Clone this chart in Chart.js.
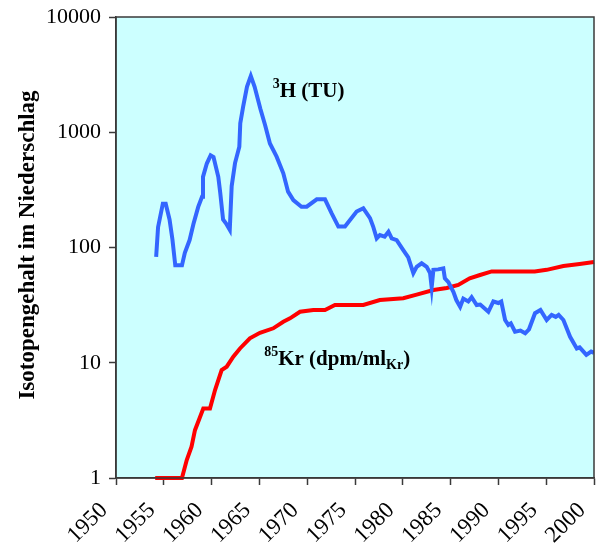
<!DOCTYPE html>
<html>
<head>
<meta charset="utf-8">
<style>
  html, body { margin: 0; padding: 0; background: #ffffff; }
  #wrap { width: 597px; height: 547px; }
</style>
<script src="https://cdn.jsdelivr.net/npm/chart.js@4.4.1/dist/chart.umd.min.js"></script>
</head>
<body>
<div id="wrap"><canvas id="c" width="597" height="547"></canvas></div>
<script>
// Tritium in precipitation (TU)
const tritiumYears = [1954.2, 1954.4, 1954.9, 1955.2, 1955.6, 1955.9, 1956.2, 1956.9, 1957.2, 1957.7,
  1958.1, 1958.6, 1959.0, 1959.1, 1959.5, 1959.9, 1960.2, 1960.7, 1960.9, 1961.2,
  1961.5, 1961.9, 1962.1, 1962.45, 1962.9, 1963.0, 1963.3, 1963.7, 1964.1, 1964.5,
  1965.1, 1965.6, 1966.1, 1966.8, 1967.5, 1968.0, 1968.55, 1969.4, 1969.95, 1971.0,
  1971.86, 1972.56, 1973.26, 1973.95, 1975.17, 1975.87, 1976.57, 1976.9, 1977.27, 1977.6,
  1978.1, 1978.5, 1978.84, 1979.36, 1980.05, 1980.57, 1981.1, 1981.45, 1981.97, 1982.5,
  1982.85, 1983.02, 1983.2, 1983.7, 1984.24, 1984.4, 1984.77, 1985.3, 1985.6, 1986.0,
  1986.33, 1986.85, 1987.2, 1987.73, 1988.1, 1988.95, 1989.47, 1990.0, 1990.3, 1990.7,
  1991.04, 1991.3, 1991.74, 1992.3, 1992.8, 1993.2, 1993.83, 1994.4, 1995.05, 1995.57,
  1996.0, 1996.3, 1996.8, 1997.5, 1998.2, 1998.5, 1999.2, 1999.7, 2000.0];
const tritiumTU = [83, 150, 240, 240, 175, 118, 70, 70, 90, 116,
  160, 225, 275, 410, 535, 630, 610, 410, 300, 175,
  162, 142, 340, 540, 750, 1200, 1670, 2480, 3080, 2480,
  1600, 1150, 800, 614, 440, 305, 258, 226, 226, 262,
  262, 198, 152, 152, 205, 219, 180, 152, 120, 128,
  124, 137, 120, 116, 95, 82, 60, 68, 73, 68,
  60, 45, 64, 64.6, 66, 54, 50, 41, 35, 30.6,
  36, 34, 37, 31.7, 32, 27.7, 34, 33, 34, 23.5,
  21.3, 22, 18.6, 19, 18, 19.5, 26.9, 28.7, 23.5, 26,
  25, 26, 23.5, 16.8, 13.3, 13.6, 11.7, 12.5, 12.2];

// Krypton-85 (dpm per ml Kr)
const kryptonYears = [1954.1, 1956.9, 1957.4, 1957.9, 1958.26, 1958.8, 1959.13, 1959.83, 1960.36, 1961.05,
  1961.58, 1962.27, 1962.97, 1964.0, 1965.06, 1966.45, 1967.5, 1968.2, 1969.25, 1970.64,
  1971.86, 1972.9, 1975.87, 1977.6, 1980.05, 1981.45, 1983.2, 1984.6, 1985.8, 1987.0,
  1988.08, 1989.3, 1991.2, 1993.8, 1995.05, 1996.8, 1998.5, 2000.0];
const kryptonDpm = [1, 1, 1.43, 1.87, 2.6, 3.4, 4.0, 4.0, 5.8, 8.65,
  9.24, 11.3, 13.3, 16.3, 18.2, 19.9, 22.7, 24.3, 27.7, 28.7,
  28.7, 31.7, 31.7, 35, 36.3, 39, 42.8, 44.5, 47.3, 54,
  57.7, 62, 62, 62, 64, 69, 72, 75];

const yearTicks = [1950, 1955, 1960, 1965, 1970, 1975, 1980, 1985, 1990, 1995, 2000];
const decadeTicks = [1, 10, 100, 1000, 10000];

const SERIF = "'Liberation Serif', 'Times New Roman', serif";
const AXIS_COLOR = '#3a3a3a';

const toPoints = (xs, ys) => xs.map((x, i) => ({ x: x, y: ys[i] }));

// Light cyan plot background with a frame around it
const plotFrame = {
  id: 'plotFrame',
  beforeDraw(chart) {
    const { ctx, chartArea: a } = chart;
    ctx.save();
    ctx.fillStyle = '#ccffff';
    ctx.fillRect(a.left, a.top, a.right - a.left, a.bottom - a.top);
    ctx.restore();
  },
  afterDraw(chart) {
    const { ctx, chartArea: a } = chart;
    ctx.save();
    ctx.strokeStyle = AXIS_COLOR;
    ctx.lineWidth = 1.5;
    ctx.strokeRect(a.left, a.top, a.right - a.left, a.bottom - a.top);
    ctx.restore();
  }
};

// Draws a run of text pieces with their own size and vertical shift (super/subscripts)
function drawRichText(ctx, x, y, parts) {
  let cx = x;
  parts.forEach(p => {
    ctx.font = 'bold ' + p.size + 'px ' + SERIF;
    ctx.fillText(p.t, cx, y + p.dy);
    cx += ctx.measureText(p.t).width;
  });
}

const annotations = {
  id: 'annotations',
  afterDatasetsDraw(chart) {
    const { ctx, scales } = chart;
    const xs = scales.x, ys = scales.y;
    ctx.save();
    ctx.fillStyle = '#000000';
    ctx.textBaseline = 'alphabetic';
    ctx.textAlign = 'left';
    drawRichText(ctx, xs.getPixelForValue(1966.4), ys.getPixelForValue(2020), [
      { t: '3', size: 14, dy: -9 },
      { t: 'H (TU)', size: 21, dy: 0 }
    ]);
    drawRichText(ctx, xs.getPixelForValue(1965.5), ys.getPixelForValue(9.56), [
      { t: '85', size: 14, dy: -9 },
      { t: 'Kr (dpm/ml', size: 21, dy: 0 },
      { t: 'Kr', size: 14, dy: 4 },
      { t: ')', size: 21, dy: 0 }
    ]);
    // vertical axis title
    ctx.translate(28, 245);
    ctx.rotate(-Math.PI / 2);
    ctx.textAlign = 'center';
    ctx.textBaseline = 'middle';
    ctx.font = 'bold 23px ' + SERIF;
    ctx.fillText('Isotopengehalt im Niederschlag', 0, 0);
    ctx.restore();
  }
};

new Chart(document.getElementById('c'), {
  type: 'line',
  data: {
    datasets: [
      {
        label: '3H (TU)',
        data: toPoints(tritiumYears, tritiumTU),
        borderColor: '#3366ff',
        borderWidth: 4,
        pointRadius: 0,
        tension: 0,
        fill: false
      },
      {
        label: '85Kr (dpm/mlKr)',
        data: toPoints(kryptonYears, kryptonDpm),
        borderColor: '#ff0000',
        borderWidth: 4,
        pointRadius: 0,
        tension: 0,
        fill: false,
        clip: false
      }
    ]
  },
  options: {
    responsive: false,
    devicePixelRatio: 1,
    animation: false,
    parsing: false,
    layout: { padding: { top: 17, right: 3, left: 0, bottom: 0 } },
    plugins: {
      legend: { display: false },
      tooltip: { enabled: false },
      title: { display: false }
    },
    scales: {
      x: {
        type: 'linear',
        min: 1950,
        max: 2000,
        afterBuildTicks: s => { s.ticks = yearTicks.map(v => ({ value: v })); },
        afterFit: s => { s.height = 69; s.paddingLeft = 0; s.paddingRight = 0; },
        ticks: {
          autoSkip: false,
          maxRotation: 45,
          minRotation: 45,
          padding: 12,
          labelOffset: -12,
          color: '#000000',
          font: { family: SERIF, size: 23 },
          callback: v => String(v)
        },
        grid: {
          drawOnChartArea: false,
          drawTicks: true,
          tickLength: 7,
          tickWidth: 1.5,
          tickColor: AXIS_COLOR
        },
        border: { display: true, color: AXIS_COLOR, width: 1.5 }
      },
      y: {
        type: 'logarithmic',
        min: 1,
        max: 10000,
        afterBuildTicks: s => { s.ticks = decadeTicks.map(v => ({ value: v })); },
        afterFit: s => { s.width = 116; s.paddingTop = 0; s.paddingBottom = 0; },
        ticks: {
          autoSkip: false,
          padding: 8,
          color: '#000000',
          font: { family: SERIF, size: 22 },
          callback: v => String(v)
        },
        grid: {
          drawOnChartArea: false,
          drawTicks: true,
          tickLength: 7,
          tickWidth: 1.5,
          tickColor: AXIS_COLOR
        },
        border: { display: true, color: AXIS_COLOR, width: 1.5 }
      }
    }
  },
  plugins: [plotFrame, annotations]
});
</script>
</body>
</html>
